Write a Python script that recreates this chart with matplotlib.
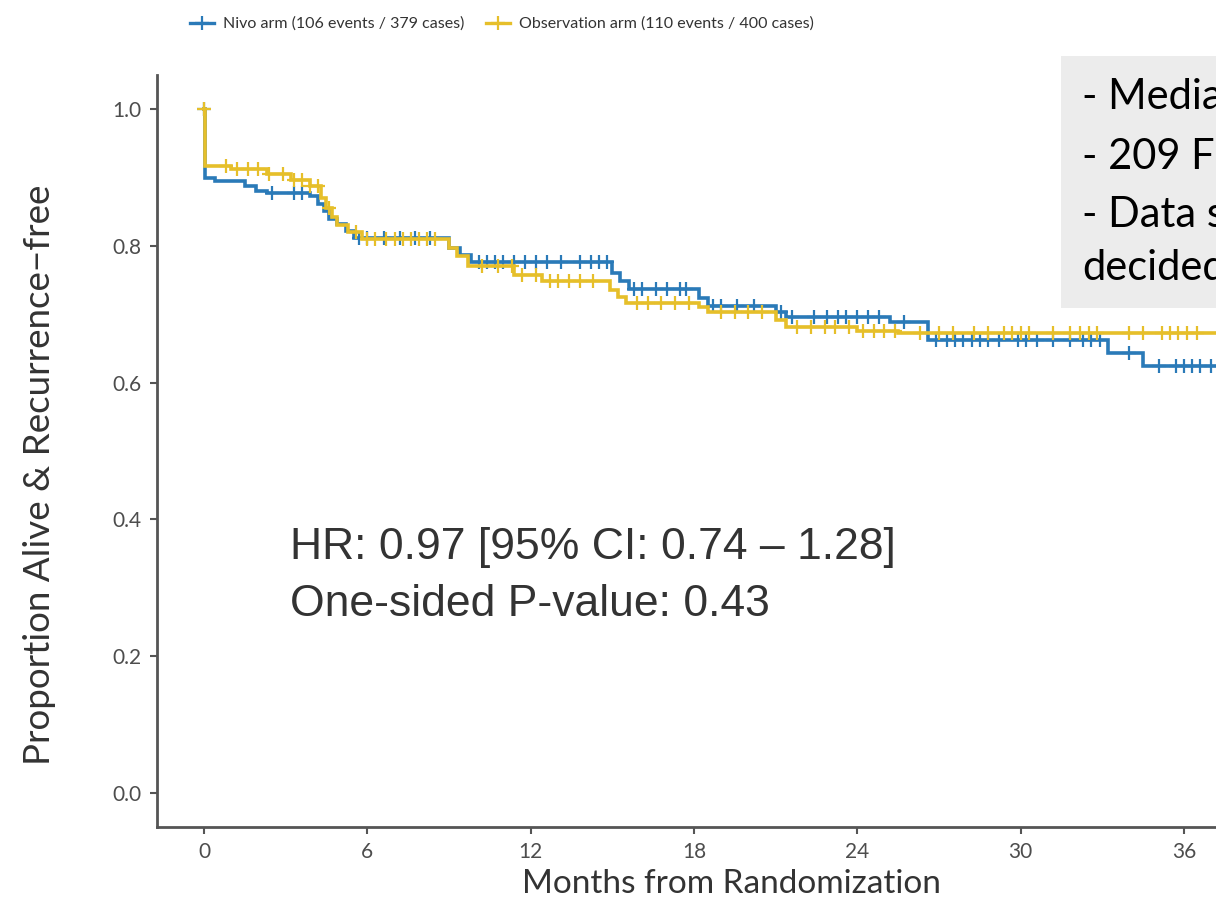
import numpy as np
import matplotlib
matplotlib.use("Agg")
import matplotlib.pyplot as plt
from matplotlib.lines import Line2D
from matplotlib.patches import Rectangle

# ---------------- data ----------------
nivo_label = "Nivo arm (106 events / 379 cases)"
obs_label = "Observation arm (110 events / 400 cases)"

nivo_times = [0.0, 0.05, 0.4, 1.5, 1.9, 2.3, 3.9, 4.2, 4.4, 4.6, 4.9, 5.2, 5.5,
              9.0, 9.4, 9.8, 15.0, 15.3, 15.6, 18.2, 18.5, 21.0, 21.4, 25.2,
              26.6, 33.2, 34.5, 40.0]
nivo_surv = [1.0, 0.900, 0.895, 0.887, 0.881, 0.877, 0.873, 0.862, 0.851, 0.840,
             0.832, 0.822, 0.812, 0.797, 0.787, 0.776, 0.760, 0.748, 0.737,
             0.724, 0.712, 0.703, 0.696, 0.688, 0.662, 0.644, 0.624, 0.624]

obs_times = [0.0, 0.05, 1.0, 2.3, 3.2, 3.9, 4.3, 4.5, 4.7, 4.9, 5.3, 5.8, 9.0,
             9.3, 9.7, 11.4, 12.4, 14.9, 15.2, 15.5, 18.2, 18.5, 21.0, 21.4,
             24.0, 25.5, 40.0]
obs_surv = [1.0, 0.917, 0.912, 0.905, 0.897, 0.887, 0.870, 0.855, 0.843, 0.830,
            0.820, 0.810, 0.797, 0.785, 0.770, 0.758, 0.748, 0.735, 0.725,
            0.717, 0.710, 0.703, 0.692, 0.682, 0.676, 0.672, 0.672]

nivo_censor = [0.0, 2.5, 3.3, 3.6, 5.7, 6.0, 6.6, 7.2, 7.75, 8.3,
               10.1, 10.4, 10.7, 11.0, 11.4, 11.8, 12.2, 12.6, 13.1, 13.8, 14.2,
               14.5, 14.8, 15.8, 16.1, 16.6, 17.0, 17.5, 17.7, 18.7, 19.0, 19.6,
               20.2, 21.2, 21.6, 22.4, 22.9, 23.3, 23.6, 24.0, 24.4, 24.8, 25.7,
               26.9, 27.3, 27.6, 27.9, 28.2, 28.5, 28.8, 29.2, 29.9, 30.2, 30.6,
               31.2, 31.8, 32.3, 32.6, 32.9, 34.0, 35.1, 35.7, 36.0, 36.3, 36.6,
               37.0]
obs_censor = [0.0, 0.8, 1.2, 1.6, 2.0, 2.4, 2.9, 3.3, 3.6, 3.9, 4.2, 4.6,
              5.6, 6.0, 6.3, 6.7, 7.0, 7.3, 7.6, 7.9, 8.2, 8.5,
              10.2, 10.8, 11.3, 11.7, 12.2, 12.7, 13.0, 13.4, 13.8, 14.3,
              15.9, 16.3, 16.8, 17.3, 17.8, 19.0, 19.5, 20.0, 20.5,
              21.8, 22.3, 22.8, 23.2, 23.7, 24.2, 24.6, 25.0, 25.4,
              26.3, 27.0, 27.5, 28.3, 28.8, 29.4, 29.7, 30.0, 30.3, 31.2, 31.8,
              32.2, 32.5, 32.8, 34.0, 34.5, 35.2, 35.5, 35.8, 36.1, 36.5]

x_ticks = [0, 6, 12, 18, 24, 30, 36]
y_ticks = [0.0, 0.2, 0.4, 0.6, 0.8, 1.0]
y_ticklabels = ["0.0", "0.2", "0.4", "0.6", "0.8", "1.0"]

hr_lines = ["HR: 0.97 [95% CI: 0.74 \u2013 1.28]", "One-sided P-value: 0.43"]
box_lines = ["- Median", "- 209 FU", "- Data s", "decided"]

BLUE = "#2a7ab8"
YELLOW = "#e6bf2a"

# ---------------- figure ----------------
W, H = 1216, 898
fig = plt.figure(figsize=(W / 100, H / 100), dpi=100)
fig.patch.set_facecolor("white")

ax_l, ax_r, ax_t, ax_b = 157, 1216, 75, 827
ax = fig.add_axes([ax_l / W, 1 - ax_b / H, (ax_r - ax_l) / W, (ax_b - ax_t) / H])
ax.set_xlim(-1.727, 37.18)
ax.set_ylim(-0.05, 1.05)


def surv_at(times, surv, t):
    idx = np.searchsorted(np.asarray(times), np.asarray(t), side="right") - 1
    return np.asarray(surv)[idx]


for times, surv, cens, col in [(nivo_times, nivo_surv, nivo_censor, BLUE),
                               (obs_times, obs_surv, obs_censor, YELLOW)]:
    ax.step(times, surv, where="post", color=col, lw=2.6, solid_joinstyle="miter")
    ax.plot(cens, surv_at(times, surv, cens), linestyle="none", marker="+",
            ms=10, mew=1.6, color=col)

for s in ["top", "right"]:
    ax.spines[s].set_visible(False)
for s in ["left", "bottom"]:
    ax.spines[s].set_color("#555555")
    ax.spines[s].set_linewidth(2)

ax.set_xticks(x_ticks)
ax.set_xticklabels([str(v) for v in x_ticks])
ax.set_yticks(y_ticks)
ax.set_yticklabels(y_ticklabels)
ax.tick_params(axis="both", colors="#555555", labelcolor="#4d4d4d",
               length=5, width=1.5, labelsize=15, pad=6)
for lab in ax.get_xticklabels() + ax.get_yticklabels():
    lab.set_family("Lato")

# axis labels
fig.text(40 / W, 1 - 475 / H, "Proportion Alive & Recurrence\u2212free",
         rotation=90, ha="center", va="center", fontsize=26.5, family="Lato",
         color="#333333")
fig.text(731 / W, 1 - 884 / H, "Months from Randomization", ha="center",
         va="center", fontsize=24, family="Lato", color="#333333")

# legend
handles = [Line2D([0], [0], color=BLUE, lw=2.4, marker="+", ms=10, mew=1.6),
           Line2D([0], [0], color=YELLOW, lw=2.4, marker="+", ms=10, mew=1.6)]
leg = fig.legend(handles, [nivo_label, obs_label], ncol=2, frameon=False,
                 loc="center", bbox_to_anchor=(502 / W, 1 - 24 / H),
                 prop={"family": "Lato", "size": 11.5}, handlelength=1.5,
                 handletextpad=0.6, columnspacing=1.3)
for t in leg.get_texts():
    t.set_color("#333333")

# HR annotation
fig.text(290 / W, 1 - 548 / H, hr_lines[0], ha="left", va="center",
         fontsize=32, family="Liberation Sans", color="#333333")
fig.text(290 / W, 1 - 604 / H, hr_lines[1], ha="left", va="center",
         fontsize=32, family="Liberation Sans", color="#333333")

# grey text box at top right (cropped by the image edge, as in the reference)
fig.patches.append(Rectangle((1061 / W, 1 - 308 / H), (W - 1061) / W, (308 - 56) / H,
                             transform=fig.transFigure, facecolor="#ececec",
                             edgecolor="none", zorder=5))
for y, txt in zip([97, 157, 215, 268], box_lines):
    fig.text(1082 / W, 1 - y / H, txt, ha="left", va="center", fontsize=30,
             family="Lato", color="black", zorder=6)

fig.savefig("out.png", dpi=100)
